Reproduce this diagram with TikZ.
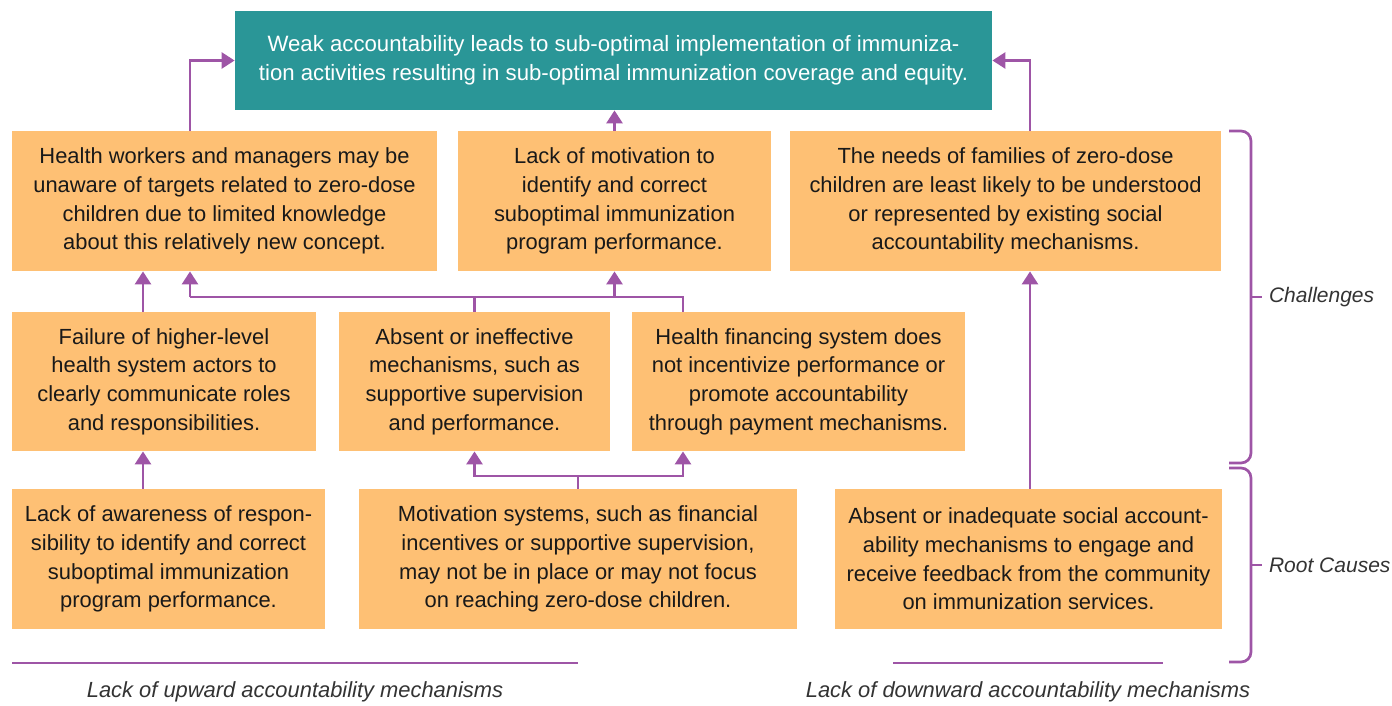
\documentclass[tikz,border=0pt]{standalone}
\usepackage{fontspec}
\setmainfont{Liberation Sans}
\usepackage{xcolor}
\usepackage{tikz}
\usetikzlibrary{calc,positioning,arrows.meta}
\definecolor{boxorange}{HTML}{FEC074}
\definecolor{goalteal}{HTML}{2A9697}
\definecolor{linkpurple}{HTML}{9E55A6}
\definecolor{sidegray}{HTML}{333333}
\tikzset{
    box/.style={
        rectangle,
        fill=boxorange,
        align=center,
        inner sep=0pt,
        text=black!90,
        font={\fontsize{10.95pt}{14.35pt}\selectfont}
    },
    goal/.style={
        box,
        fill=goalteal,
        text=white,
        font={\fontsize{11.1pt}{14.5pt}\selectfont}
    },
    link/.style={draw=linkpurple, line width=1.35pt},
    flow/.style={link, -{Triangle[length=6.5pt,width=8pt]}},
    bracket/.style={link, rounded corners=5pt},
    sidenote/.style={
        text=sidegray,
        anchor=west,
        font={\fontsize{10.5pt}{13pt}\selectfont\itshape}
    },
    footnote/.style={
        text=sidegray,
        font={\fontsize{10.95pt}{13pt}\selectfont\itshape}
    },
}

\begin{document}
\begin{tikzpicture}[x=0.5pt, y=-0.5pt]
\useasboundingbox (0,0) rectangle (1392,706);
% goal at the top
\node(Goal) at (613.5, 60.5)[goal, minimum width=378.5pt, minimum height=49.5pt]{Weak accountability leads to sub-optimal implementation of immuniza-\\tion activities resulting in sub-optimal immunization coverage and equity.};
% challenges, first row
\node(Aware) at (224.5, 201)[box, minimum width=212.5pt, minimum height=70pt]{Health workers and managers may be\\unaware of targets related to zero-dose\\children due to limited knowledge\\about this relatively new concept.};
\node(Motiv) at (614.5, 201)[box, minimum width=156.5pt, minimum height=70pt]{Lack of motivation to\\identify and correct\\suboptimal immunization\\program performance.};
\node(Needs) at (1005.5, 201)[box, minimum width=215.5pt, minimum height=70pt]{The needs of families of zero-dose\\children are least likely to be understood\\or represented by existing social\\accountability mechanisms.};
% challenges, second row
\node(Roles) at (164, 381.5)[box, minimum width=152pt, minimum height=69.5pt]{Failure of higher-level\\health system actors to\\clearly communicate roles\\and responsibilities.};
\node(Superv) at (474.5, 381.5)[box, minimum width=135.5pt, minimum height=69.5pt]{Absent or ineffective\\mechanisms, such as\\supportive supervision\\and performance.};
\node(Financ) at (798.5, 381.5)[box, minimum width=166.5pt, minimum height=69.5pt]{Health financing system does\\not incentivize performance or\\promote accountability\\through payment mechanisms.};
% root causes
\node(Resp) at (168.5, 559)[box, minimum width=156.5pt, minimum height=70pt]{Lack of awareness of respon-\\sibility to identify and correct\\suboptimal immunization\\program performance.};
\node(Incent) at (578, 559)[box, minimum width=219pt, minimum height=70pt]{Motivation systems, such as financial\\incentives or supportive supervision,\\may not be in place or may not focus\\on reaching zero-dose children.};
\node(Social) at (1028.5, 559)[box, minimum width=193.5pt, minimum height=70pt]{Absent or inadequate social account-\\ability mechanisms to engage and\\receive feedback from the community\\on immunization services.};
% bends and junctions
\coordinate(upL) at (190, 57);
\coordinate(upR) at (1030, 57);
\coordinate(colL) at (143, 0);
\coordinate(colF) at (683, 0);
\coordinate(busA) at (190, 297);
\coordinate(busB) at (578, 476);
% arrows up to the goal
\draw[flow] (Aware.north -| upL) |- (Goal.west);
\draw[flow] (Motiv.north) -- (Motiv.north |- Goal.south);
\draw[flow] (Needs.north -| upR) |- (Goal.east);
% left column
\draw[flow] (Roles.north -| colL) -- (Aware.south -| colL);
\draw[flow] (Resp.north -| colL) -- (Roles.south -| colL);
% middle bus
\draw[link] (Superv.north) -- (Superv.north |- busA);
\draw[link] (Financ.north -| colF) |- (busA);
\draw[flow] (busA) -- (busA |- Aware.south);
\draw[flow] (Motiv.south |- busA) -- (Motiv.south);
\draw[flow] (Incent.north) -- (busB) -| (Superv.south);
\draw[flow] (busB) -| (Financ.south -| colF);
% right column
\draw[flow] (Social.north -| upR) -- (Needs.south -| upR);
% brackets on the right
\coordinate(brA) at (1251, 297);
\coordinate(brB) at (1251, 565);
\draw[bracket] (1229, 131) -- (1251, 131) -- (1251, 463) -- (1229, 463);
\draw[bracket] (1229, 468) -- (1251, 468) -- (1251, 662) -- (1229, 662);
\draw[link] (brA) -- ++(11, 0) coordinate(tipA);
\draw[link] (brB) -- ++(11, 0) coordinate(tipB);
\node(Chal) at (tipA)[sidenote]{Challenges};
\node(Root) at (tipB)[sidenote]{Root Causes};
% bottom rules
\coordinate(ruleL) at (12, 663);
\coordinate(ruleR) at (893, 663);
\draw[link] (ruleL) -- (578, 663);
\draw[link] (ruleR) -- (1163, 663);
\node(Up) at (295, 692)[footnote]{Lack of upward accountability mechanisms};
\node(Down) at (1028, 692)[footnote]{Lack of downward accountability mechanisms};
\end{tikzpicture}
\end{document}
